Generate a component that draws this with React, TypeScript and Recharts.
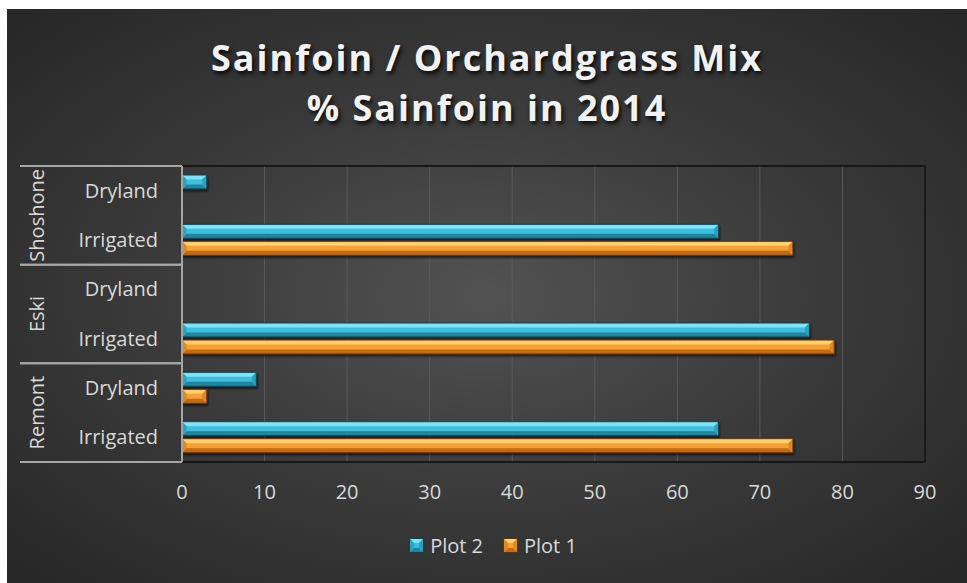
import React from "react";
import {
  BarChart,
  Bar,
  XAxis,
  YAxis,
  CartesianGrid,
  Legend,
  ReferenceArea,
} from "recharts";

const groups = ["Shoshone", "Shoshone", "Eski", "Eski", "Remont", "Remont"];
const treatments = ["Dryland", "Irrigated", "Dryland", "Irrigated", "Dryland", "Irrigated"];
const plot2 = [3, 65, null, 76, 9, 65];
const plot1 = [null, 74, null, 79, 3, 74];
const xTicks = [0, 10, 20, 30, 40, 50, 60, 70, 80, 90];
const seriesOrder = ["Plot 2", "Plot 1"];

const data = groups.map((g, i) => ({
  id: `${g}|${treatments[i]}`,
  "Plot 2": plot2[i],
  "Plot 1": plot1[i],
}));

const FONT = "'Open Sans', 'Noto Sans', sans-serif";
const LABEL = "#d9d9d9";

type Palette = { light: string; mid: string; dark: string; side: string; edge: string };
const CYAN: Palette = { light: "#7fe2f7", mid: "#3fbedc", dark: "#21849e", side: "#2ea1bd", edge: "#123f4c" };
const ORANGE: Palette = { light: "#ffcf70", mid: "#f5a134", dark: "#c26b17", side: "#dc8926", edge: "#5e330b" };
const palettes: Record<string, Palette> = { "Plot 2": CYAN, "Plot 1": ORANGE };

function bevel(c: Palette, x: number, y: number, w: number, h: number) {
  const b = Math.min(h * 0.32, w / 2);
  return (
    <g>
      <rect x={x} y={y} width={w} height={h} fill={c.mid} />
      <polygon points={`${x},${y} ${x + w},${y} ${x + w - b},${y + b} ${x + b},${y + b}`} fill={c.light} />
      <polygon points={`${x},${y + h} ${x + w},${y + h} ${x + w - b},${y + h - b} ${x + b},${y + h - b}`} fill={c.dark} />
      <polygon points={`${x + w},${y} ${x + w},${y + h} ${x + w - b},${y + h - b} ${x + w - b},${y + b}`} fill={c.side} />
      <polygon points={`${x},${y} ${x},${y + h} ${x + b},${y + h - b} ${x + b},${y + b}`} fill={c.side} />
      <rect x={x} y={y} width={w} height={h} fill="none" stroke={c.edge} strokeWidth={1} />
    </g>
  );
}

const bevelShape = (c: Palette) => (props: any) => {
  const { x, y, width, height } = props;
  if (!width || width <= 0) return <g />;
  return <g filter="url(#barShadow)">{bevel(c, x, y, width, height)}</g>;
};

function CategoryTick(props: any) {
  const { x, y, payload } = props;
  const index: number = props.index ?? payload.index;
  const axisX = x + 24;
  const half = payload.offset && payload.offset > 5 ? payload.offset : 296 / 12;
  const g = groups[index];
  const first = index === 0 || groups[index - 1] !== g;
  const last = index === groups.length - 1 || groups[index + 1] !== g;
  const size = groups.filter((v) => v === g).length;
  const gx = axisX - 145;
  const gy = y - half + size * half;
  return (
    <g>
      <text x={x} y={y} dy="0.35em" textAnchor="end" fill={LABEL} fontSize={20} fontFamily={FONT}>
        {treatments[index]}
      </text>
      {first && (
        <line x1={axisX - 162} x2={axisX} y1={y - half} y2={y - half} stroke="#a6a6a6" strokeWidth={2} />
      )}
      {last && (
        <line x1={axisX - 162} x2={axisX} y1={y + half} y2={y + half} stroke="#a6a6a6" strokeWidth={2} />
      )}
      {first && (
        <text
          x={gx}
          y={gy}
          dy="0.35em"
          textAnchor="middle"
          transform={`rotate(-90, ${gx}, ${gy})`}
          fill={LABEL}
          fontSize={20}
          fontFamily={FONT}
        >
          {g}
        </text>
      )}
    </g>
  );
}

function LegendContent(props: any) {
  const items = [...(props.payload || [])].sort(
    (a: any, b: any) => seriesOrder.indexOf(a.value) - seriesOrder.indexOf(b.value)
  );
  return (
    <div style={{ display: "flex", justifyContent: "center", alignItems: "center", height: 30 }}>
      {items.map((it: any) => (
        <div key={it.value} style={{ display: "flex", alignItems: "center", margin: "0 10px" }}>
          <svg width={15} height={15} style={{ marginRight: 6 }}>
            {bevel(palettes[it.value] || CYAN, 0.5, 0.5, 14, 14)}
          </svg>
          <span style={{ color: LABEL, fontSize: 20, fontFamily: FONT }}>{it.value}</span>
        </div>
      ))}
    </div>
  );
}

export default function App() {
  return (
    <div
      style={{
        position: "absolute",
        left: 7,
        top: 9,
        width: 960,
        height: 574,
        overflow: "hidden",
        background: "radial-gradient(ellipse at 50% 50%, #525252 0%, #3c3c3c 45%, #262626 100%)",
      }}
    >
      <div
        style={{
          position: "absolute",
          top: 24,
          left: 0,
          width: 960,
          textAlign: "center",
          color: "#f2f2f2",
          fontFamily: FONT,
          fontWeight: 700,
          fontSize: 36,
          lineHeight: "50px",
          letterSpacing: 2,
          textShadow: "2px 3px 4px rgba(0,0,0,0.85)",
        }}
      >
        <div>Sainfoin / Orchardgrass Mix</div>
        <div>% Sainfoin in 2014</div>
      </div>
      <BarChart
        width={960}
        height={574}
        data={data}
        layout="vertical"
        margin={{ top: 157, right: 42, left: 0, bottom: 51 }}
        barSize={14}
        barGap={3}
      >
        <defs>
          <filter id="barShadow" x="-10%" y="-50%" width="120%" height="200%">
            <feDropShadow dx={1} dy={2} stdDeviation={1.2} floodColor="#000" floodOpacity={0.6} />
          </filter>
        </defs>
        <CartesianGrid horizontal={false} stroke="#5a5a5a" />
        <ReferenceArea x1={0} x2={90} fill="none" stroke="#0d0d0d" strokeWidth={1.5} />
        <XAxis
          type="number"
          domain={[0, 90]}
          ticks={xTicks}
          axisLine={false}
          tickLine={false}
          tickSize={0}
          tickMargin={23}
          height={40}
          tick={{ fill: LABEL, fontSize: 20, fontFamily: FONT }}
        />
        <YAxis
          type="category"
          dataKey="id"
          width={175}
          tickLine={false}
          tickSize={0}
          tickMargin={24}
          axisLine={{ stroke: "#a6a6a6", strokeWidth: 2 }}
          tick={<CategoryTick />}
          interval={0}
        />
        <Legend
          verticalAlign="bottom"
          content={<LegendContent />}
          wrapperStyle={{ bottom: 23, height: 30, left: 6, width: 960 }}
        />
        <Bar dataKey="Plot 2" fill={CYAN.mid} shape={bevelShape(CYAN)} isAnimationActive={false} />
        <Bar dataKey="Plot 1" fill={ORANGE.mid} shape={bevelShape(ORANGE)} isAnimationActive={false} />
      </BarChart>
    </div>
  );
}
